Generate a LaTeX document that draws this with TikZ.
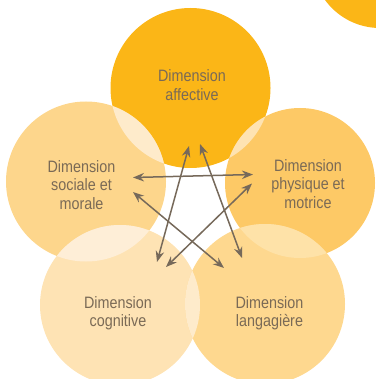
\documentclass[tikz,border=0pt]{standalone}
\usepackage{fontspec}
\setmainfont{Liberation Sans}[FakeStretch=0.87]
\usetikzlibrary{arrows.meta}
\definecolor{cTop}{HTML}{FBB617}
\definecolor{cLeft}{HTML}{FDD68C}
\definecolor{cRight}{HTML}{FDC966}
\definecolor{cBL}{HTML}{FEE3B4}
\definecolor{cBR}{HTML}{FED88F}
\definecolor{oTL}{HTML}{FEEBCB}
\definecolor{oTR}{HTML}{FEE3B2}
\definecolor{oLB}{HTML}{FEEED7}
\definecolor{oRB}{HTML}{FEE2A8}
\definecolor{oBB}{HTML}{FEEBCB}
\definecolor{txt}{HTML}{7A6A56}
\definecolor{arr}{HTML}{76695A}
\begin{document}
\begin{tikzpicture}[x=1pt,y=-1pt,
  disc/.style={circle,minimum size=#1,inner sep=0pt},
  lbl/.style={font=\fontsize{16.5}{18.5}\selectfont,text=txt,align=center,inner sep=0pt},
  link/.style={draw=arr,line width=1.5pt,{Stealth[length=11pt,width=8.5pt]}-{Stealth[length=11pt,width=8.5pt]}}]
\useasboundingbox (0,0) rectangle (375,379);
% circles
\node[disc=136pt,fill=cTop] (corner) at (380,-40) {};
\node[disc=160pt,fill=cTop] (A) at (190.5,88) {};
\node[disc=160pt,fill=cLeft] (S) at (86,181.5) {};
\node[disc=150pt,fill=cRight] (P) at (300,183) {};
\node[disc=160pt,fill=cBL] (C) at (120,305) {};
\node[disc=160pt,fill=cBR] (L) at (265,304) {};
% overlaps
\begin{scope}
  \clip (A) circle[radius=80pt];
  \fill[oTL] (S) circle[radius=80pt];
  \fill[oTR] (P) circle[radius=75pt];
\end{scope}
\begin{scope}
  \clip (S) circle[radius=80pt];
  \fill[oLB] (C) circle[radius=80pt];
\end{scope}
\begin{scope}
  \clip (P) circle[radius=75pt];
  \fill[oRB] (L) circle[radius=80pt];
\end{scope}
\begin{scope}
  \clip (C) circle[radius=80pt];
  \fill[oBB] (L) circle[radius=80pt];
\end{scope}
% labels
\node[lbl] (tA) at (192,85) {Dimension\\affective};
\node[lbl] (tS) at (81.5,185) {Dimension\\sociale et\\morale};
\node[lbl] (tP) at (308,184) {Dimension\\physique et\\motrice};
\node[lbl] (tC) at (118,313) {Dimension\\cognitive};
\node[lbl] (tL) at (269.5,313) {Dimension\\langagière};
% arrow ends
\coordinate (a1) at (189,146);
\coordinate (c1) at (157,262);
\coordinate (a2) at (200,144);
\coordinate (l2) at (242,258);
\coordinate (s3) at (133,177.5);
\coordinate (p3) at (253,174.5);
\coordinate (s4) at (133,192);
\coordinate (l4) at (224,268);
\coordinate (p5) at (252,183.5);
\coordinate (c5) at (166,267);
\draw[link] (a1) -- (c1);
\draw[link] (a2) -- (l2);
\draw[link] (s3) -- (p3);
\draw[link] (s4) -- (l4);
\draw[link] (p5) -- (c5);
\end{tikzpicture}
\end{document}
